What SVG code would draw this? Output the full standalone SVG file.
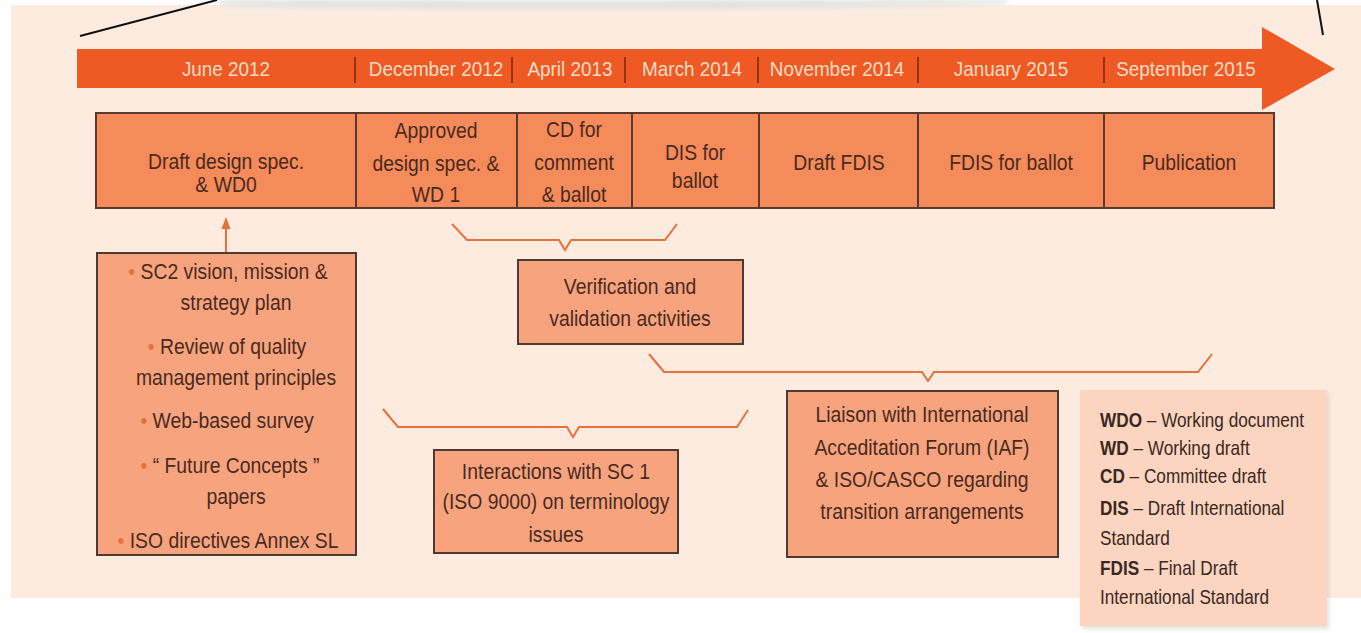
<svg xmlns="http://www.w3.org/2000/svg" width="1361" height="633" viewBox="0 0 1361 633">
  <defs>
    <style>
      .t{font-family:"Liberation Sans",Arial,sans-serif;font-size:22px;fill:#4a2a1f;text-anchor:middle}
      .m{font-family:"Liberation Sans",Arial,sans-serif;font-size:21px;fill:#fcdcc4;text-anchor:middle}
      .lg{font-family:"Liberation Sans",Arial,sans-serif;font-size:20px;fill:#3a2823}
      .lg .k{font-weight:bold}
      .stage{fill:#f58a5a;stroke:#5a3a2e;stroke-width:2}
      .note{fill:#f7a47e;stroke:#4d3a33;stroke-width:2}
      .brace{fill:none;stroke:#e8703c;stroke-width:2;stroke-linejoin:miter}
      .sep{stroke:#9a3212;stroke-width:2}
      .dot{fill:#e8703c}
    </style>
    <filter id="soft" x="-10%" y="-200%" width="120%" height="500%">
      <feGaussianBlur stdDeviation="2.5"/>
    </filter>
    <filter id="shade" x="-10%" y="-10%" width="120%" height="120%">
      <feGaussianBlur stdDeviation="2"/>
    </filter>
  </defs>

  <!-- page backdrop -->
  <rect x="0" y="0" width="1361" height="633" fill="#ffffff"/>
  <rect x="11" y="5" width="1350" height="593" fill="#fdebe0"/>
  <path d="M215,0 L1010,0 L1005,4 C800,10 400,10 225,6 Z" fill="#dfe3df" filter="url(#soft)"/>
  <line x1="80" y1="36" x2="217" y2="0" stroke="#111" stroke-width="2"/>
  <line x1="1317" y1="0" x2="1323" y2="35" stroke="#111" stroke-width="2"/>

  <!-- timeline arrow -->
  <g id="timeline">
    <path d="M77,49 L1262,49 L1262,27 L1335,69 L1262,110 L1262,88 L77,88 Z" fill="#ef5a24"/>
    <line class="sep" x1="355" y1="57" x2="355" y2="83"/>
    <line class="sep" x1="512" y1="57" x2="512" y2="83"/>
    <line class="sep" x1="625" y1="57" x2="625" y2="83"/>
    <line class="sep" x1="758" y1="57" x2="758" y2="83"/>
    <line class="sep" x1="918" y1="57" x2="918" y2="83"/>
    <line class="sep" x1="1104" y1="57" x2="1104" y2="83"/>
    <text class="m" transform="translate(226 0) scale(0.9 1)" x="0" y="76">June 2012</text>
    <text class="m" transform="translate(436 0) scale(0.9 1)" x="0" y="76">December 2012</text>
    <text class="m" transform="translate(570 0) scale(0.9 1)" x="0" y="76">April 2013</text>
    <text class="m" transform="translate(692 0) scale(0.9 1)" x="0" y="76">March 2014</text>
    <text class="m" transform="translate(837 0) scale(0.9 1)" x="0" y="76">November 2014</text>
    <text class="m" transform="translate(1011 0) scale(0.9 1)" x="0" y="76">January 2015</text>
    <text class="m" transform="translate(1186 0) scale(0.9 1)" x="0" y="76">September 2015</text>
  </g>

  <!-- stage boxes -->
  <g id="stage-wd0">
    <rect class="stage" x="96" y="113" width="260" height="95"/>
    <text class="t" transform="translate(226 0) scale(0.88 1)"><tspan x="0" y="169">Draft design spec.</tspan><tspan x="0" y="192">&amp; WD0</tspan></text>
  </g>
  <g id="stage-wd1">
    <rect class="stage" x="356" y="113" width="161" height="95"/>
    <text class="t" transform="translate(436 0) scale(0.88 1)"><tspan x="0" y="138">Approved</tspan><tspan x="0" y="171">design spec. &amp;</tspan><tspan x="0" y="202">WD 1</tspan></text>
  </g>
  <g id="stage-cd">
    <rect class="stage" x="517" y="113" width="115" height="95"/>
    <text class="t" transform="translate(574 0) scale(0.88 1)"><tspan x="0" y="137">CD for</tspan><tspan x="0" y="170">comment</tspan><tspan x="0" y="202">&amp; ballot</tspan></text>
  </g>
  <g id="stage-dis">
    <rect class="stage" x="632" y="113" width="127" height="95"/>
    <text class="t" transform="translate(695 0) scale(0.88 1)"><tspan x="0" y="160">DIS for</tspan><tspan x="0" y="188">ballot</tspan></text>
  </g>
  <g id="stage-draft-fdis">
    <rect class="stage" x="759" y="113" width="159" height="95"/>
    <text class="t" transform="translate(839 0) scale(0.88 1)" x="0" y="170">Draft FDIS</text>
  </g>
  <g id="stage-fdis">
    <rect class="stage" x="918" y="113" width="186" height="95"/>
    <text class="t" transform="translate(1011 0) scale(0.88 1)" x="0" y="170">FDIS for ballot</text>
  </g>
  <g id="stage-publication">
    <rect class="stage" x="1104" y="113" width="170" height="95"/>
    <text class="t" transform="translate(1189 0) scale(0.88 1)" x="0" y="170">Publication</text>
  </g>

  <!-- connectors: input arrow and grouping braces -->
  <g id="connectors">
    <line x1="226" y1="253" x2="226" y2="227" stroke="#e8703c" stroke-width="2"/>
    <path d="M226,217 L221.5,229 L230.5,229 Z" fill="#e8703c"/>
    <path class="brace" d="M452,224 L467,240 L559,240 L565,250 L571,240 L665,240 L677,224"/>
    <path class="brace" d="M649,354 L664,372 L922,372 L928,381 L934,372 L1198,372 L1212,354"/>
    <path class="brace" d="M383,409 L398,427 L567,427 L573,437 L579,427 L737,427 L748,410"/>
  </g>

  <!-- inputs to the first draft -->
  <g id="inputs">
    <rect class="note" x="97" y="253" width="259" height="302"/>
    <text class="t" transform="translate(228 0) scale(0.88 1)" x="0" y="279"><tspan class="dot">•</tspan> SC2 vision, mission &amp;</text>
    <text class="t" transform="translate(236 0) scale(0.88 1)" x="0" y="310">strategy plan</text>
    <text class="t" transform="translate(227 0) scale(0.88 1)" x="0" y="354"><tspan class="dot">•</tspan> Review of quality</text>
    <text class="t" transform="translate(236 0) scale(0.88 1)" x="0" y="385">management principles</text>
    <text class="t" transform="translate(227 0) scale(0.88 1)" x="0" y="428"><tspan class="dot">•</tspan> Web-based survey</text>
    <text class="t" transform="translate(230 0) scale(0.88 1)" x="0" y="473"><tspan class="dot">•</tspan> “ Future Concepts ”</text>
    <text class="t" transform="translate(236 0) scale(0.88 1)" x="0" y="504">papers</text>
    <text class="t" transform="translate(228 0) scale(0.88 1)" x="0" y="548"><tspan class="dot">•</tspan> ISO directives Annex SL</text>
  </g>

  <g id="verification">
    <rect class="note" x="518" y="260" width="225" height="84"/>
    <text class="t" transform="translate(630 0) scale(0.88 1)"><tspan x="0" y="294">Verification and</tspan><tspan x="0" y="326">validation activities</tspan></text>
  </g>

  <g id="interactions">
    <rect class="note" x="434" y="450" width="244" height="103"/>
    <text class="t" transform="translate(556 0) scale(0.88 1)"><tspan x="0" y="479">Interactions with SC 1</tspan><tspan x="0" y="509">(ISO 9000) on terminology</tspan><tspan x="0" y="542">issues</tspan></text>
  </g>

  <g id="liaison">
    <rect class="note" x="787" y="391" width="271" height="166"/>
    <text class="t" transform="translate(922 0) scale(0.88 1)"><tspan x="0" y="422">Liaison with International</tspan><tspan x="0" y="455">Acceditation Forum (IAF)</tspan><tspan x="0" y="487">&amp; ISO/CASCO regarding</tspan><tspan x="0" y="519">transition arrangements</tspan></text>
  </g>

  <!-- abbreviations -->
  <g id="legend">
    <rect x="1082" y="393" width="247" height="236" fill="#b8a89f" opacity="0.35" filter="url(#shade)"/>
    <rect x="1080" y="390" width="247" height="236" fill="#fcd5c0"/>
    <text class="lg" transform="translate(1100 0) scale(0.86 1)">
      <tspan x="0" y="427"><tspan class="k">WDO</tspan> – Working document</tspan>
      <tspan x="0" y="455"><tspan class="k">WD</tspan> – Working draft</tspan>
      <tspan x="0" y="483"><tspan class="k">CD</tspan> – Committee draft</tspan>
      <tspan x="0" y="515"><tspan class="k">DIS</tspan> – Draft International</tspan>
      <tspan x="0" y="545">Standard</tspan>
      <tspan x="0" y="575"><tspan class="k">FDIS</tspan> – Final Draft</tspan>
      <tspan x="0" y="604">International Standard</tspan>
    </text>
  </g>
</svg>
